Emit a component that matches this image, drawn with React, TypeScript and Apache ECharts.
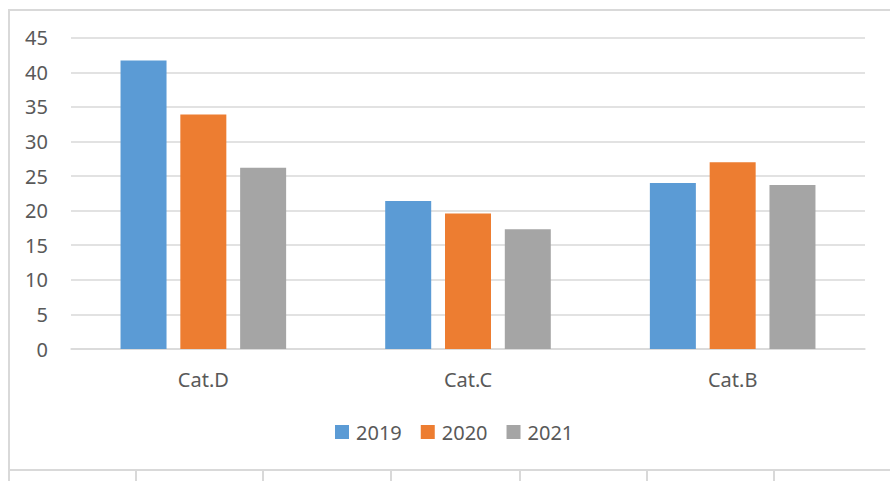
import React, { useEffect, useRef } from "react";
import * as echarts from "echarts";

const categories = ["Cat.D", "Cat.C", "Cat.B"];
const seriesNames = ["2019", "2020", "2021"];
const values2019 = [41.7, 21.4, 24.0];
const values2020 = [33.9, 19.6, 27.0];
const values2021 = [26.2, 17.3, 23.7];
const colors = ["#5B9BD5", "#ED7D31", "#A5A5A5"];
const sheetColumnX = [9, 136, 263, 391, 520, 647, 774];

const FONT = "'Noto Sans', 'Open Sans', sans-serif";
const TEXT = "#595959";
const LINE = "#d9d9d9";

export default function App() {
  const ref = useRef<HTMLDivElement>(null);
  useEffect(() => {
    if (!ref.current) return;
    const chart = echarts.init(ref.current, undefined, { renderer: "svg" });
    const allValues = [values2019, values2020, values2021];
    chart.setOption({
      animation: false,
      backgroundColor: "#ffffff",
      textStyle: { fontFamily: FONT },
      grid: { left: 71, right: 25, top: 37.7, bottom: 132 },
      legend: {
        left: 330,
        top: 417,
        itemWidth: 14,
        itemHeight: 14,
        itemGap: 19,
        icon: "rect",
        textStyle: { fontFamily: FONT, fontSize: 20, color: TEXT, padding: [0, 0, 0, 2] },
        data: seriesNames,
      },
      xAxis: {
        type: "category",
        data: categories,
        axisLine: { lineStyle: { color: LINE, width: 1.5 } },
        axisTick: { show: false },
        axisLabel: { fontFamily: FONT, fontSize: 20, color: TEXT, margin: 20 },
      },
      yAxis: {
        type: "value",
        min: 0,
        max: 45,
        interval: 5,
        axisLine: { show: false },
        axisTick: { show: false },
        axisLabel: { fontFamily: FONT, fontSize: 20, color: TEXT, margin: 23 },
        splitLine: { lineStyle: { color: LINE, width: 1.5 } },
      },
      series: seriesNames.map((name, i) => ({
        name,
        type: "bar",
        data: allValues[i],
        barWidth: 46,
        barGap: "30%",
        itemStyle: { color: colors[i] },
      })),
      graphic: [
        {
          type: "rect",
          shape: { x: 9, y: 10, width: 900, height: 460 },
          style: { fill: "none", stroke: LINE, lineWidth: 2 },
          silent: true,
        },
        ...sheetColumnX.map((x) => ({
          type: "line",
          shape: { x1: x, y1: 471, x2: x, y2: 481 },
          style: { stroke: LINE, lineWidth: 2 },
          silent: true,
        })),
      ],
    });
    return () => chart.dispose();
  }, []);
  return (
    <div
      ref={ref}
      style={{ position: "fixed", left: 0, top: 0, width: 890, height: 481 }}
    />
  );
}
